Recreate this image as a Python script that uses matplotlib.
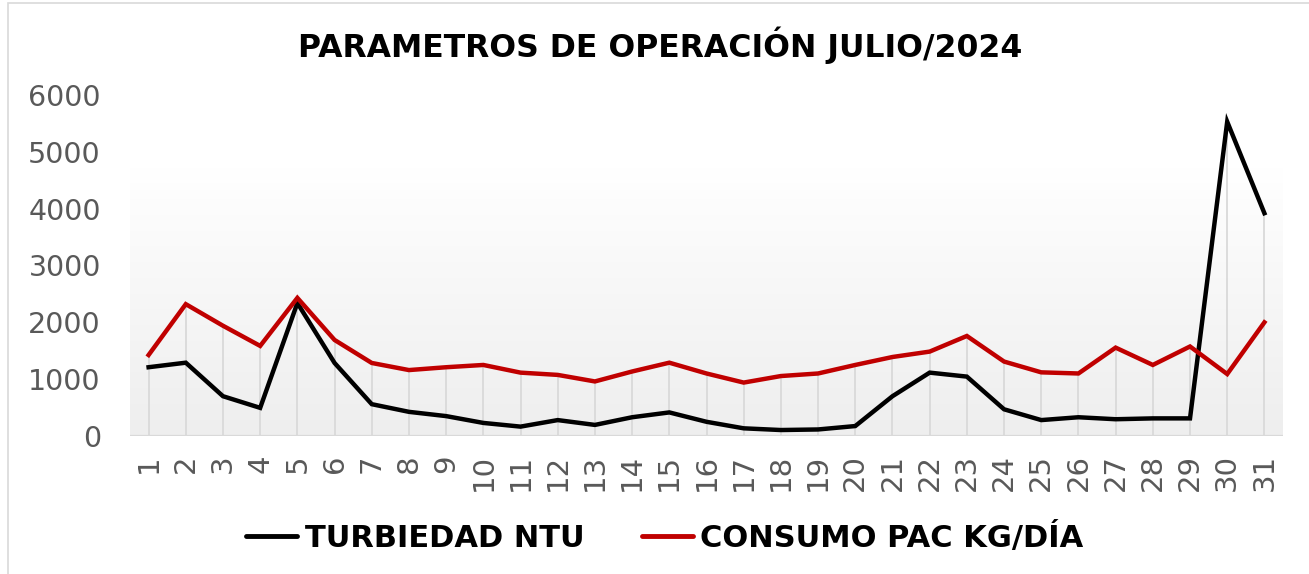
import matplotlib
matplotlib.use("Agg")
import matplotlib.pyplot as plt
import numpy as np
from matplotlib.colors import LinearSegmentedColormap
from matplotlib.patches import Rectangle

# Daily operating parameters, July 2024
days = list(range(1, 32))
turbiedad_ntu = [1210, 1290, 700, 495, 2340, 1285, 560, 425, 350, 230,
                 165, 280, 195, 330, 415, 250, 135, 105, 115, 175,
                 700, 1115, 1045, 470, 280, 330, 295, 310, 310, 5530, 3920]
consumo_pac = [1425, 2320, 1940, 1585, 2430, 1690, 1285, 1160, 1210, 1250,
               1115, 1075, 960, 1135, 1290, 1100, 940, 1055, 1100, 1250,
               1390, 1485, 1760, 1310, 1120, 1100, 1555, 1250, 1575, 1090, 2000]

title = "PARAMETROS DE OPERACIÓN JULIO/2024"
series_labels = ["TURBIEDAD NTU", "CONSUMO PAC KG/DÍA"]
y_ticks = [0, 1000, 2000, 3000, 4000, 5000, 6000]

W, H = 1309, 574
fig = plt.figure(figsize=(W / 100, H / 100), dpi=100)
fig.patch.set_facecolor("white")

# thin frame around the chart area
fig.add_artist(Rectangle((8 / W, -0.1), 1.2, (H - 3) / H + 0.1,
                         transform=fig.transFigure, fill=False,
                         edgecolor="#d9d9d9", linewidth=1.2))

ax_left, ax_right = 130 / W, 1283 / W
ax_bottom, ax_top = (H - 436) / H, (H - 95) / H
ax = fig.add_axes([ax_left, ax_bottom, ax_right - ax_left, ax_top - ax_bottom])
ax.set_xlim(0.5, 31.5)
ax.set_ylim(0, 6000)

# plot-area gradient fill
grad = np.linspace(1, 0, 256).reshape(-1, 1)
cmap = LinearSegmentedColormap.from_list("bg", ["#eeeeee", "#ffffff"])
ax.imshow(grad, cmap=cmap, aspect="auto", extent=[0.5, 31.5, 0, 4720],
          origin="upper", zorder=0, vmin=0, vmax=1)

# drop lines from each point down to the axis
tops = np.maximum(turbiedad_ntu, consumo_pac)
ax.vlines(days, 0, tops, colors="#d9d9d9", linewidth=1.3, zorder=1)
ax.axhline(0, color="#d9d9d9", linewidth=1.6, zorder=1)

ax.plot(days, turbiedad_ntu, color="#000000", linewidth=3.2,
        solid_joinstyle="miter", zorder=3, label=series_labels[0])
ax.plot(days, consumo_pac, color="#C00000", linewidth=3.2,
        solid_joinstyle="miter", zorder=3, label=series_labels[1])

for s in ax.spines.values():
    s.set_visible(False)
ax.set_xticks(days)
ax.set_xticklabels([str(d) for d in days], rotation=90, fontsize=21,
                   color="#595959")
ax.set_yticks(y_ticks)
ax.set_yticklabels([str(v) for v in y_ticks], fontsize=20.5, color="#595959")
ax.tick_params(axis="both", length=0)
ax.tick_params(axis="y", pad=21)
ax.tick_params(axis="x", pad=13)

fig.text(0.504, 0.922, title, ha="center", va="center", fontsize=22.7,
         fontweight="bold", color="#000000")

leg = fig.legend(loc="center", bbox_to_anchor=(0.508, 0.064), ncol=2,
                 frameon=False, handlelength=1.65, handletextpad=0.25,
                 columnspacing=1.9,
                 prop={"weight": "bold", "size": 22})
for line in leg.get_lines():
    line.set_linewidth(3.5)
    line.set_solid_capstyle("round")

fig.savefig("out.png", dpi=100, facecolor="white")
